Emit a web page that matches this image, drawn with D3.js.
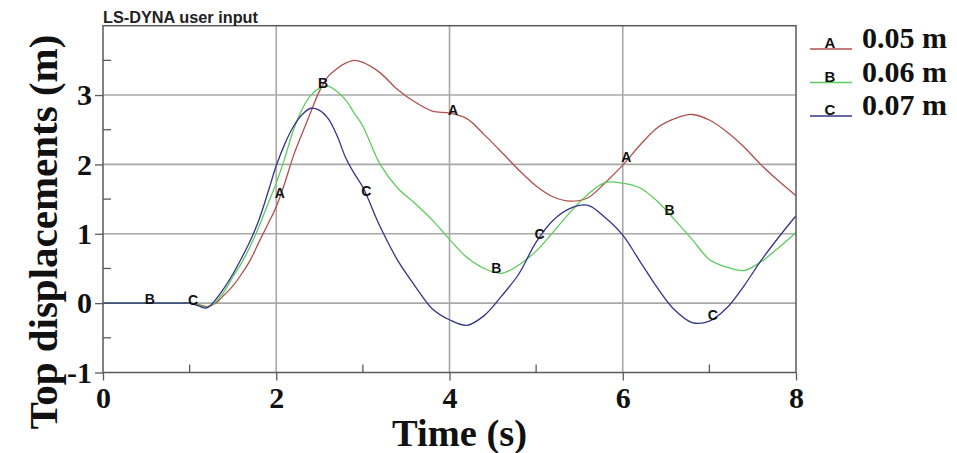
<!DOCTYPE html>
<html>
<head>
<meta charset="utf-8">
<script src="https://cdn.jsdelivr.net/npm/d3@7"></script>
<style>
  body { margin: 0; background: #fff; }
  svg { display: block; }
</style>
</head>
<body>
<svg id="chart" width="957" height="453"></svg>
<script>
// Top displacement histories for three cases (time in s, displacement in m)
const time = [0, 0.9, 1.0, 1.1, 1.2, 1.3, 1.4, 1.5, 1.6, 1.7, 1.8, 1.9, 2.0, 2.1, 2.2, 2.3, 2.4, 2.5,
  2.6, 2.7, 2.8, 2.9, 3.0, 3.2, 3.4, 3.6, 3.8, 4.0, 4.2, 4.4, 4.6, 4.8, 5.0, 5.2, 5.4, 5.6,
  5.8, 6.0, 6.2, 6.4, 6.6, 6.8, 7.0, 7.2, 7.4, 7.6, 7.8, 8.0];

const dispA = [0, 0, 0, -0.02, -0.05, 0.0, 0.12, 0.25, 0.42, 0.62, 0.88, 1.13, 1.39, 1.74, 2.13, 2.45, 2.76, 3.06,
  3.27, 3.38, 3.46, 3.5, 3.47, 3.32, 3.08, 2.9, 2.77, 2.74, 2.66, 2.43, 2.18, 1.92, 1.69, 1.53, 1.47, 1.52,
  1.74, 1.99, 2.28, 2.53, 2.66, 2.72, 2.64, 2.47, 2.25, 1.99, 1.76, 1.55];

const dispB = [0, 0, 0, -0.03, -0.06, 0.02, 0.17, 0.38, 0.58, 0.82, 1.1, 1.42, 1.73, 2.1, 2.5, 2.8, 3.0, 3.1,
  3.13, 3.05, 2.93, 2.74, 2.55, 2.0, 1.66, 1.44, 1.2, 0.92, 0.66, 0.5, 0.43, 0.55, 0.75, 1.03, 1.32, 1.57,
  1.74, 1.73, 1.66, 1.47, 1.2, 0.92, 0.63, 0.52, 0.47, 0.6, 0.8, 1.02];

const dispC = [0, 0, 0, -0.04, -0.07, 0.05, 0.22, 0.42, 0.65, 0.9, 1.2, 1.58, 1.98, 2.3, 2.55, 2.72, 2.81, 2.78,
  2.66, 2.42, 2.1, 1.87, 1.67, 1.1, 0.62, 0.25, -0.08, -0.24, -0.32, -0.18, 0.1, 0.42, 0.88, 1.2, 1.37, 1.41,
  1.23, 0.98, 0.6, 0.22, -0.1, -0.28, -0.26, -0.07, 0.25, 0.62, 0.95, 1.26];

const seriesKeys = ["A", "B", "C"];
const legendLabels = ["0.05 m", "0.06 m", "0.07 m"];
const seriesColors = ["#b0504c", "#5ccc5c", "#34348a"];
// times at which each curve carries its identifying letter
const markerTimes = [[2.04, 4.04, 6.04], [0.54, 2.54, 4.54, 6.54], [1.04, 3.04, 5.04, 7.04]];

const xTicks = [0, 2, 4, 6, 8];
const xMinorTicks = [1, 3, 5, 7];
const yTicks = [-1, 0, 1, 2, 3];
const yMinorTicks = [-0.5, 0.5, 1.5, 2.5, 3.5];

const titleText = "LS-DYNA user input";
const xTitle = "Time (s)";
const yTitle = "Top displacements (m)";

const series = [dispA, dispB, dispC].map((vals, i) => ({
  key: seriesKeys[i],
  label: legendLabels[i],
  color: seriesColors[i],
  markers: markerTimes[i],
  points: time.map((t, j) => ({ t, v: vals[j] }))
}));

const svg = d3.select("#chart");
const x = d3.scaleLinear().domain([0, 8]).range([103, 796]);
const y = d3.scaleLinear().domain([-1, 4]).range([372.5, 25.7]);

const serif = "'Liberation Serif', 'Times New Roman', serif";
const sans = "'Liberation Sans', Arial, sans-serif";
const frameColor = "#5a5a5a";
const gridColor = "#a8a8a8";

// grid
const grid = svg.append("g");
grid.selectAll("line.hg").data(yTicks.filter(d => d > -1)).join("line")
  .attr("x1", x(0)).attr("x2", x(8))
  .attr("y1", d => y(d)).attr("y2", d => y(d))
  .attr("stroke", gridColor).attr("stroke-width", 1.6);
grid.selectAll("line.vg").data(xTicks.filter(d => d > 0 && d < 8)).join("line")
  .attr("x1", d => x(d)).attr("x2", d => x(d))
  .attr("y1", y(4)).attr("y2", y(-1))
  .attr("stroke", gridColor).attr("stroke-width", 1.6);

// curves
const line = d3.line().x(d => x(d.t)).y(d => y(d.v)).curve(d3.curveCatmullRom.alpha(0.5));
svg.append("g").selectAll("path").data(series).join("path")
  .attr("d", d => line(d.points))
  .attr("fill", "none")
  .attr("stroke", d => d.color)
  .attr("stroke-width", 1.3);

// curve letters
const interp = (pts, t) => {
  const i = d3.bisector(p => p.t).right(pts, t);
  const a = pts[Math.max(0, i - 1)], b = pts[Math.min(pts.length - 1, i)];
  if (a.t === b.t) return a.v;
  return a.v + (b.v - a.v) * (t - a.t) / (b.t - a.t);
};
const markerData = series.flatMap(s => s.markers.map(t => ({ key: s.key, t, v: interp(s.points, t) })));
svg.append("g").selectAll("text").data(markerData).join("text")
  .attr("x", d => x(d.t)).attr("y", d => y(d.v) - 4)
  .attr("text-anchor", "middle").attr("dominant-baseline", "central")
  .attr("font-family", sans).attr("font-weight", "bold").attr("font-size", 14)
  .attr("fill", "#111")
  .text(d => d.key);

// frame
svg.append("rect")
  .attr("x", x(0)).attr("y", y(4))
  .attr("width", x(8) - x(0)).attr("height", y(-1) - y(4))
  .attr("fill", "none").attr("stroke", frameColor).attr("stroke-width", 1.5);

// axes
const styleAxis = g => {
  g.select(".domain").remove();
  g.selectAll(".tick line").attr("stroke", frameColor).attr("stroke-width", 1.3);
  g.selectAll(".tick text")
    .attr("font-family", serif).attr("font-weight", "bold").attr("font-size", 30).attr("fill", "#111");
};
svg.append("g").attr("transform", `translate(${x(0)},0)`)
  .call(d3.axisLeft(y).tickValues(yTicks).tickSize(8).tickPadding(3).tickFormat(d => String(d)))
  .call(styleAxis);
svg.append("g").attr("transform", `translate(0,${y(-1)})`)
  .call(d3.axisBottom(x).tickValues(xTicks).tickSize(8).tickPadding(6).tickFormat(d => String(d)))
  .call(styleAxis);

// inward minor ticks
svg.append("g").selectAll("line").data(yMinorTicks).join("line")
  .attr("x1", x(0)).attr("x2", x(0) + 8)
  .attr("y1", d => y(d)).attr("y2", d => y(d))
  .attr("stroke", frameColor).attr("stroke-width", 1.3);
svg.append("g").selectAll("line").data(xMinorTicks).join("line")
  .attr("x1", d => x(d)).attr("x2", d => x(d))
  .attr("y1", y(-1)).attr("y2", y(-1) - 8)
  .attr("stroke", frameColor).attr("stroke-width", 1.3);

// titles
svg.append("text")
  .attr("x", x(0)).attr("y", 22.5)
  .attr("font-family", sans).attr("font-weight", "bold").attr("font-size", 16.3)
  .attr("fill", "#222")
  .text(titleText);

svg.append("text")
  .attr("x", 392).attr("y", 446)
  .attr("font-family", serif).attr("font-weight", "bold").attr("font-size", 38.5)
  .attr("fill", "#111")
  .text(xTitle);

svg.append("text")
  .attr("transform", "translate(57,232) rotate(-90)")
  .attr("text-anchor", "middle")
  .attr("font-family", serif).attr("font-weight", "bold").attr("font-size", 41)
  .attr("fill", "#111")
  .text(yTitle);

// legend
const legend = svg.append("g").selectAll("g").data(series).join("g")
  .attr("transform", (d, i) => `translate(0,${49 + i * 33.5})`);
legend.append("line")
  .attr("x1", 810).attr("x2", 852).attr("y1", 0).attr("y2", 0)
  .attr("stroke", d => d.color).attr("stroke-width", 1.3);
legend.append("text")
  .attr("x", 830).attr("y", -1)
  .attr("text-anchor", "middle")
  .attr("font-family", sans).attr("font-weight", "bold").attr("font-size", 15)
  .attr("fill", "#111")
  .text(d => d.key);
legend.append("text")
  .attr("x", 862).attr("y", -1)
  .attr("font-family", serif).attr("font-weight", "bold").attr("font-size", 30)
  .attr("fill", "#111")
  .text(d => d.label);
</script>
</body>
</html>
